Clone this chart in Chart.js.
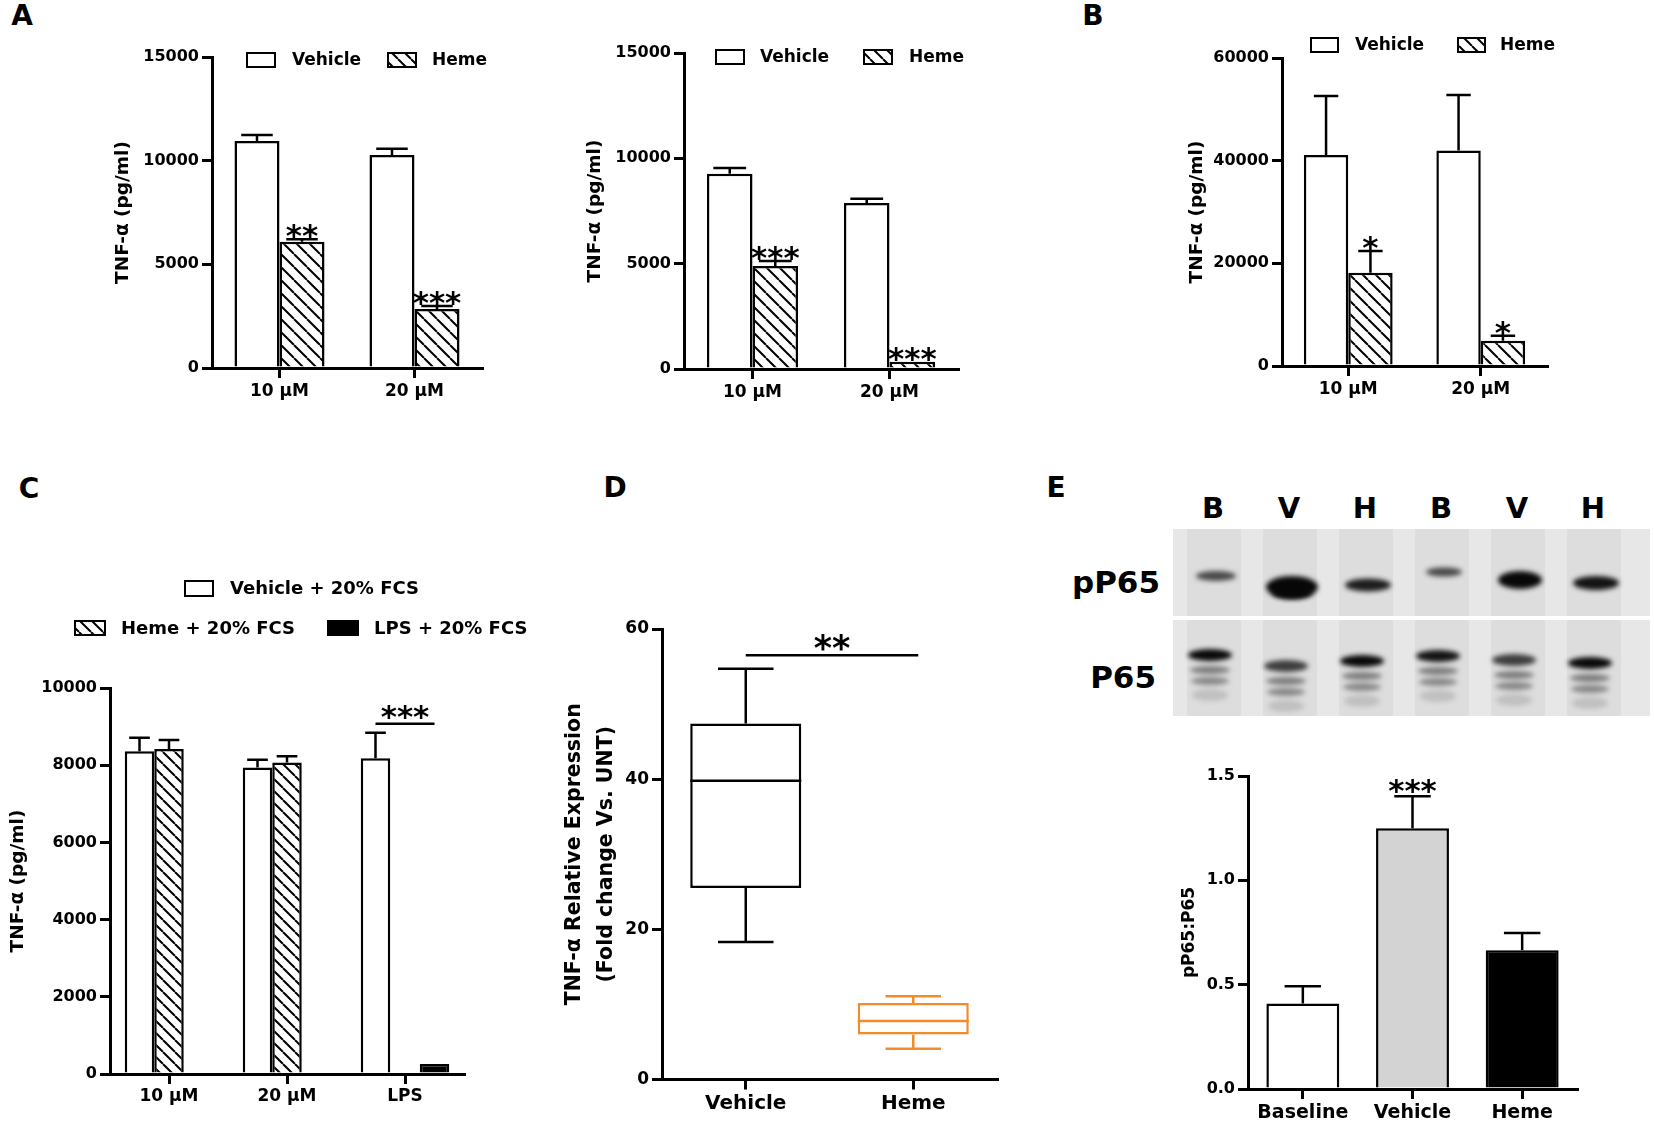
<!DOCTYPE html>
<html>
<head>
<meta charset="utf-8">
<title>TNF-alpha panels</title>
<script src="https://cdn.jsdelivr.net/npm/chart.js@4.4.0/dist/chart.umd.min.js"></script>
<style>
    body { margin: 0; background: #fff; }
    #page { position: relative; width: 1654px; height: 1127px; overflow: hidden; background: #fff;
            font-family: "DejaVu Sans", sans-serif; font-weight: bold; color: #000; }
    canvas { position: absolute; }
    .tag { position: absolute; line-height: 1; white-space: nowrap; transform: translate(-50%, -50%); }
    .panel { font-size: 28px; }
    .lane { font-size: 29px; }
    .row { font-size: 31px; transform: translate(-100%, -50%); }
</style>
</head>
<body>
<div id="page">
    <div class="tag panel" style="left:22px; top:16px">A</div>
    <div class="tag panel" style="left:1093px; top:16px">B</div>
    <div class="tag panel" style="left:29px; top:489px">C</div>
    <div class="tag panel" style="left:615px; top:488px">D</div>
    <div class="tag panel" style="left:1056px; top:488px">E</div>

    <div id="laneRow"></div>
    <div class="tag row" style="left:1160px; top:582px">pP65</div>
    <div class="tag row" style="left:1156px; top:677px">P65</div>

    <canvas id="chartA1"></canvas>
    <canvas id="chartA2"></canvas>
    <canvas id="chartB"></canvas>
    <canvas id="chartC"></canvas>
    <canvas id="chartD"></canvas>
    <canvas id="chartE"></canvas>
    <canvas id="blot"></canvas>
</div>

<script>
// ---- data ----
const doseLabels = ["10 \u03bcM", "20 \u03bcM"];

// panel A, left (pg/ml)
const a1Vehicle = [10950, 10270];
const a1VehicleErr = [290, 300];
const a1Heme = [6090, 2850];
const a1HemeErr = [115, 140];
const a1Stars = ["**", "***"];

// panel A, right
const a2Vehicle = [9270, 7880];
const a2VehicleErr = [270, 200];
const a2Heme = [4890, 350];
const a2HemeErr = [240, 0];
const a2Stars = ["***", "***"];

// panel B
const bVehicle = [41100, 42000];
const bVehicleErr = [11500, 10800];
const bHeme = [18150, 4900];
const bHemeErr = [4240, 1000];
const bStars = ["*", "*"];

// panel C
const cLabels = ["10 \u03bcM", "20 \u03bcM", "LPS"];
const cVehicle = [8360, 7940, 8180];
const cVehicleErr = [350, 200, 660];
const cHeme = [8420, 8070, null];
const cHemeErr = [230, 160, 0];
const cLps = [null, null, 260];
const cLpsErr = [0, 0, 0];
const cSigValue = 9075;

// panel D (box and whiskers)
const dLabels = ["Vehicle", "Heme"];
const dMin = [18.3, 4.1];
const dQ1 = [25.5, 6.0];
const dMedian = [39.8, 7.8];
const dQ3 = [47.4, 10.2];
const dMax = [54.7, 11.1];
const dSigValue = 56.5;

// panel E
const eLabels = ["Baseline", "Vehicle", "Heme"];
const eRatio = [0.41, 1.25, 0.665];
const eRatioErr = [0.083, 0.153, 0.083];
const eStars = ["", "***", ""];

// western blot lanes
const laneLabels = ["B", "V", "H", "B", "V", "H"];
const pP65Strength = [0.7, 1.0, 0.9, 0.7, 1.0, 0.95];
const p65Strength = [1.0, 0.75, 1.0, 0.95, 0.75, 1.0];

const FONT = "'DejaVu Sans', sans-serif";
const ORANGE = "#f28c28";

Chart.defaults.font.family = FONT;
Chart.defaults.font.weight = "bold";
Chart.defaults.color = "#000";

// diagonal hatch used for the heme bars
function hatch(step) {
    const tile = document.createElement("canvas");
    tile.width = step;
    tile.height = step;
    const t = tile.getContext("2d");
    t.fillStyle = "#fff";
    t.fillRect(0, 0, step, step);
    t.strokeStyle = "#000";
    t.lineWidth = 2;
    t.beginPath();
    for (let k = -step; k <= step; k += step) {
        t.moveTo(k, 0);
        t.lineTo(k + step, step);
    }
    t.stroke();
    return t.createPattern(tile, "repeat");
}

const hatchWide = hatch(13);
const hatchNarrow = hatch(12);

// extra drawing per canvas: legend, error bars, stars, bracket lines, whiskers
const panelExtras = {};

const extrasPlugin = {
    id: "extras",
    afterDatasetsDraw(chart) {
        const ex = panelExtras[chart.canvas.id];
        if (!ex) return;
        const ctx = chart.ctx;
        const yScale = chart.scales.y;
        const ox = ex.origin[0];
        const oy = ex.origin[1];
        ctx.save();

        // error bars and asterisks
        chart.data.datasets.forEach((ds, d) => {
            if (!ds.errors) return;
            const meta = chart.getDatasetMeta(d);
            meta.data.forEach((bar, i) => {
                const v = ds.data[i];
                if (v === null || v === undefined) return;
                const err = ds.errors[i] || 0;
                const yTop = yScale.getPixelForValue(v + err);
                if (err > 0) {
                    const half = bar.width * ex.capFrac / 2;
                    ctx.strokeStyle = "#000";
                    ctx.lineWidth = 2.5;
                    ctx.beginPath();
                    ctx.moveTo(bar.x, bar.y);
                    ctx.lineTo(bar.x, yTop);
                    ctx.moveTo(bar.x - half, yTop);
                    ctx.lineTo(bar.x + half, yTop);
                    ctx.stroke();
                }
                if (ds.stars && ds.stars[i]) {
                    ctx.fillStyle = "#000";
                    ctx.font = "bold " + ex.starSize + "px " + FONT;
                    ctx.textAlign = "center";
                    ctx.textBaseline = "alphabetic";
                    ctx.fillText(ds.stars[i], bar.x, yTop + ex.starDrop);
                }
            });
        });

        // box plot median and whiskers
        if (ex.box) {
            const meta = chart.getDatasetMeta(0);
            meta.data.forEach((bar, i) => {
                const half = bar.width / 2;
                const cap = bar.width * ex.box.capFrac / 2;
                const yMed = yScale.getPixelForValue(ex.box.median[i]);
                const yQ1 = yScale.getPixelForValue(ex.box.q1[i]);
                const yQ3 = yScale.getPixelForValue(ex.box.q3[i]);
                const yMin = yScale.getPixelForValue(ex.box.min[i]);
                const yMax = yScale.getPixelForValue(ex.box.max[i]);
                ctx.strokeStyle = ex.box.colors[i];
                ctx.lineWidth = 2.5;
                ctx.beginPath();
                ctx.moveTo(bar.x - half, yMed);
                ctx.lineTo(bar.x + half, yMed);
                ctx.moveTo(bar.x, yQ3);
                ctx.lineTo(bar.x, yMax);
                ctx.moveTo(bar.x - cap, yMax);
                ctx.lineTo(bar.x + cap, yMax);
                ctx.moveTo(bar.x, yQ1);
                ctx.lineTo(bar.x, yMin);
                ctx.moveTo(bar.x - cap, yMin);
                ctx.lineTo(bar.x + cap, yMin);
                ctx.stroke();
            });
        }

        // significance bracket (a flat line with stars above)
        if (ex.sig) {
            const s = ex.sig;
            const x1 = chart.getDatasetMeta(s.from[0]).data[s.from[1]].x + (s.pad ? s.pad[0] : 0);
            const x2 = chart.getDatasetMeta(s.to[0]).data[s.to[1]].x + (s.pad ? s.pad[1] : 0);
            const y = yScale.getPixelForValue(s.value);
            ctx.strokeStyle = "#000";
            ctx.lineWidth = 2.5;
            ctx.beginPath();
            ctx.moveTo(x1, y);
            ctx.lineTo(x2, y);
            ctx.stroke();
            ctx.fillStyle = "#000";
            ctx.font = "bold " + s.size + "px " + FONT;
            ctx.textAlign = "center";
            ctx.textBaseline = "alphabetic";
            ctx.fillText(s.text, (x1 + x2) / 2, y + s.drop);
        }

        // legend swatches and labels (page coordinates)
        if (ex.legend) {
            ex.legend.forEach((item) => {
                const x = item.box[0] - ox;
                const y = item.box[1] - oy;
                ctx.fillStyle = item.fill;
                ctx.fillRect(x, y, item.box[2], item.box[3]);
                ctx.strokeStyle = "#000";
                ctx.lineWidth = 2;
                ctx.strokeRect(x, y, item.box[2], item.box[3]);
                ctx.fillStyle = "#000";
                ctx.font = "bold " + ex.legendSize + "px " + FONT;
                ctx.textAlign = "left";
                ctx.textBaseline = "middle";
                ctx.fillText(item.label, item.textX - ox, y + item.box[3] / 2 + 1);
            });
        }
        ctx.restore();
    }
};

function placeCanvas(id, box) {
    const c = document.getElementById(id);
    c.width = box.w;
    c.height = box.h;
    c.style.left = box.x + "px";
    c.style.top = box.y + "px";
    c.style.width = box.w + "px";
    c.style.height = box.h + "px";
    return c;
}

// builds a Prism-like bar chart whose axes land on the given page pixels
function prismChart(id, box, geo, cfg) {
    const canvas = placeCanvas(id, box);
    const yWidth = geo.axisX - box.x;
    const xHeight = box.y + box.h - geo.zeroY;
    const axisLine = {display: true, color: "#000", width: 3};
    const tickGrid = {drawOnChartArea: false, drawTicks: true, tickLength: 10, color: "#000", lineWidth: 3};

    return new Chart(canvas, {
        type: "bar",
        data: cfg.data,
        plugins: [extrasPlugin],
        options: {
            responsive: false,
            animation: false,
            layout: {
                padding: {left: 0, bottom: 0, top: geo.topY - box.y, right: box.x + box.w - geo.rightX}
            },
            plugins: {legend: {display: false}, tooltip: {enabled: false}},
            datasets: {bar: {barPercentage: cfg.barPct, categoryPercentage: cfg.catPct}},
            scales: {
                x: {
                    grid: Object.assign({offset: false}, tickGrid),
                    border: axisLine,
                    ticks: {font: {size: cfg.xFont}, padding: cfg.xPad, maxRotation: 0, autoSkip: false},
                    afterFit: (s) => { s.height = xHeight; }
                },
                y: {
                    min: 0,
                    max: cfg.yMax,
                    grid: tickGrid,
                    border: axisLine,
                    ticks: {stepSize: cfg.yStep, font: {size: cfg.yFont}, padding: 3,
                        callback: cfg.yFormat || ((v) => v)},
                    title: {display: true, text: cfg.yTitle, padding: 0,
                        font: {size: cfg.titleFont, lineHeight: cfg.titleLine || 1.2}},
                    afterFit: (s) => { s.width = yWidth; }
                }
            }
        }
    });
}

function barSet(label, values, errors, fill, stars) {
    return {
        label: label,
        data: values,
        errors: errors,
        stars: stars,
        backgroundColor: fill,
        borderColor: "#000",
        borderWidth: 2.5
    };
}

// ---------- panel A, left ----------
const boxA1 = {x: 112, y: 20, w: 388, h: 400};
panelExtras.chartA1 = {
    origin: [boxA1.x, boxA1.y], capFrac: 0.7, starSize: 31, starDrop: 7, legendSize: 17,
    legend: [
        {box: [247, 53, 28, 14], fill: "#fff", label: "Vehicle", textX: 292},
        {box: [388, 53, 28, 14], fill: hatchWide, label: "Heme", textX: 432}
    ]
};
prismChart("chartA1", boxA1, {axisX: 212, topY: 57, zeroY: 368, rightX: 482}, {
    data: {labels: doseLabels, datasets: [
        barSet("Vehicle", a1Vehicle, a1VehicleErr, "#fff"),
        barSet("Heme", a1Heme, a1HemeErr, hatchWide, a1Stars)
    ]},
    barPct: 1, catPct: 0.667, yMax: 15000, yStep: 5000, yFont: 16, xFont: 17, xPad: 3,
    yTitle: "TNF-\u03b1 (pg/ml)", titleFont: 18.5
});

// ---------- panel A, right ----------
const boxA2 = {x: 584, y: 20, w: 391, h: 400};
panelExtras.chartA2 = {
    origin: [boxA2.x, boxA2.y], capFrac: 0.72, starSize: 31, starDrop: 7, legendSize: 17,
    legend: [
        {box: [716, 50, 28, 14], fill: "#fff", label: "Vehicle", textX: 760},
        {box: [864, 50, 28, 14], fill: hatchWide, label: "Heme", textX: 909}
    ]
};
prismChart("chartA2", boxA2, {axisX: 684, topY: 53, zeroY: 369, rightX: 958}, {
    data: {labels: doseLabels, datasets: [
        barSet("Vehicle", a2Vehicle, a2VehicleErr, "#fff"),
        barSet("Heme", a2Heme, a2HemeErr, hatchWide, a2Stars)
    ]},
    barPct: 1, catPct: 0.665, yMax: 15000, yStep: 5000, yFont: 16, xFont: 17, xPad: 3,
    yTitle: "TNF-\u03b1 (pg/ml)", titleFont: 18.5
});

// ---------- panel B ----------
const boxB = {x: 1186, y: 20, w: 379, h: 400};
panelExtras.chartB = {
    origin: [boxB.x, boxB.y], capFrac: 0.55, starSize: 31, starDrop: 7, legendSize: 17,
    legend: [
        {box: [1311, 38, 27, 14], fill: "#fff", label: "Vehicle", textX: 1355},
        {box: [1458, 38, 27, 14], fill: hatchWide, label: "Heme", textX: 1500}
    ]
};
prismChart("chartB", boxB, {axisX: 1282, topY: 58, zeroY: 366, rightX: 1547}, {
    data: {labels: doseLabels, datasets: [
        barSet("Vehicle", bVehicle, bVehicleErr, "#fff"),
        barSet("Heme", bHeme, bHemeErr, hatchWide, bStars)
    ]},
    barPct: 1, catPct: 0.67, yMax: 60000, yStep: 20000, yFont: 16, xFont: 17, xPad: 3,
    yTitle: "TNF-\u03b1 (pg/ml)", titleFont: 18.5
});

// ---------- panel C ----------
const boxC = {x: 7, y: 560, w: 543, h: 565};
panelExtras.chartC = {
    origin: [boxC.x, boxC.y], capFrac: 0.7, starSize: 31, starDrop: 7, legendSize: 18,
    sig: {from: [0, 2], to: [2, 2], value: cSigValue, text: "***", size: 31, drop: 3},
    legend: [
        {box: [185, 581, 28, 15], fill: "#fff", label: "Vehicle + 20% FCS", textX: 230},
        {box: [75, 621, 30, 14], fill: hatchNarrow, label: "Heme + 20% FCS", textX: 121},
        {box: [328, 621, 30, 14], fill: "#000", label: "LPS + 20% FCS", textX: 374}
    ]
};
prismChart("chartC", boxC, {axisX: 110, topY: 688, zeroY: 1074, rightX: 464}, {
    data: {labels: cLabels, datasets: [
        barSet("Vehicle + 20% FCS", cVehicle, cVehicleErr, "#fff"),
        barSet("Heme + 20% FCS", cHeme, cHemeErr, hatchNarrow),
        barSet("LPS + 20% FCS", cLps, cLpsErr, "#000")
    ]},
    barPct: 1, catPct: 0.75, yMax: 10000, yStep: 2000, yFont: 16, xFont: 17, xPad: 2,
    yTitle: "TNF-\u03b1 (pg/ml)", titleFont: 18.5
});

// ---------- panel D (floating bars make the boxes) ----------
const boxD = {x: 559, y: 580, w: 456, h: 545};
panelExtras.chartD = {
    origin: [boxD.x, boxD.y], capFrac: 0.5, starSize: 35, starDrop: 7,
    box: {min: dMin, q1: dQ1, median: dMedian, q3: dQ3, max: dMax, colors: ["#000", ORANGE], capFrac: 0.5},
    sig: {from: [0, 0], to: [0, 1], pad: [0, 5], value: dSigValue, text: "**", size: 35, drop: 5}
};
prismChart("chartD", boxD, {axisX: 662, topY: 629, zeroY: 1079.5, rightX: 997}, {
    data: {labels: dLabels, datasets: [{
        label: "TNF-\u03b1",
        data: dQ1.map((q, i) => [q, dQ3[i]]),
        backgroundColor: "#fff",
        borderColor: ["#000", ORANGE],
        borderWidth: 2.5,
        borderSkipped: false
    }]},
    barPct: 0.663, catPct: 1, yMax: 60, yStep: 20, yFont: 17, xFont: 20, xPad: 2,
    yTitle: ["TNF-\u03b1 Relative Expression", "(Fold change Vs. UNT)"], titleFont: 20.5, titleLine: 1.56
});

// ---------- panel E, bar chart ----------
const boxE = {x: 1179, y: 740, w: 421, h: 387};
panelExtras.chartE = {
    origin: [boxE.x, boxE.y], capFrac: 0.5, starSize: 31, starDrop: 5
};
prismChart("chartE", boxE, {axisX: 1248, topY: 776, zeroY: 1089, rightX: 1577}, {
    data: {labels: eLabels, datasets: [{
        label: "pP65:P65",
        data: eRatio,
        errors: eRatioErr,
        stars: eStars,
        backgroundColor: ["#fff", "#d3d3d3", "#000"],
        borderColor: "#000",
        borderWidth: 2.5
    }]},
    barPct: 0.665, catPct: 1, yMax: 1.5, yStep: 0.5, yFont: 16, xFont: 19, xPad: 3,
    yFormat: (v) => Number(v).toFixed(1),
    yTitle: "pP65:P65", titleFont: 17
});

// ---------- panel E, western blot picture ----------
function drawBlot() {
    const box = {x: 1173, y: 529, w: 477, h: 187};
    const c = placeCanvas("blot", box);
    const ctx = c.getContext("2d");
    const laneX = (i) => 1214 + 76 * i - box.x;

    // two membrane strips
    const strips = [{top: 0, h: 87}, {top: 91, h: 96}];
    strips.forEach((s) => {
        ctx.fillStyle = "#e7e7e7";
        ctx.fillRect(0, s.top, box.w, s.h);
        for (let i = 0; i < laneLabels.length; i++) {
            ctx.fillStyle = "rgba(0,0,0,0.04)";
            ctx.fillRect(laneX(i) - 27, s.top, 54, s.h);
        }
    });

    ctx.filter = "blur(2.5px)";
    // pP65 bands
    const pTop = [47, 58, 56, 43, 51, 54];
    const pWide = [20, 26, 23, 18, 22, 23];
    const pTall = [5, 11, 6.5, 4.5, 9, 7];
    pP65Strength.forEach((k, i) => {
        ctx.fillStyle = "rgba(8,8,8," + k + ")";
        ctx.beginPath();
        ctx.ellipse(laneX(i) + 2, pTop[i], pWide[i], pTall[i], 0, 0, Math.PI * 2);
        ctx.fill();
    });
    // lower lobe of the strong vehicle band
    ctx.fillStyle = "rgba(8,8,8,1)";
    ctx.beginPath();
    ctx.ellipse(laneX(1) + 2, 64, 20, 6, 0, 0, Math.PI * 2);
    ctx.fill();

    // P65 bands: one strong band and fainter ones below it
    const qTop = [126, 137, 132, 127, 131, 134];
    p65Strength.forEach((k, i) => {
        const x = laneX(i) - 4;
        ctx.fillStyle = "rgba(8,8,8," + k + ")";
        ctx.beginPath();
        ctx.ellipse(x, qTop[i], 22, 6, 0, 0, Math.PI * 2);
        ctx.fill();
        ctx.fillStyle = "rgba(30,30,30,0.5)";
        ctx.beginPath();
        ctx.ellipse(x, qTop[i] + 15, 20, 4, 0, 0, Math.PI * 2);
        ctx.fill();
        ctx.fillStyle = "rgba(30,30,30,0.45)";
        ctx.beginPath();
        ctx.ellipse(x, qTop[i] + 26, 19, 4, 0, 0, Math.PI * 2);
        ctx.fill();
        ctx.fillStyle = "rgba(30,30,30,0.15)";
        ctx.beginPath();
        ctx.ellipse(x, qTop[i] + 40, 18, 6, 0, 0, Math.PI * 2);
        ctx.fill();
    });
    ctx.filter = "none";

    // lane letters above the blot
    const row = document.getElementById("laneRow");
    laneLabels.forEach((t, i) => {
        const d = document.createElement("div");
        d.className = "tag lane";
        d.style.left = (1213 + 76 * i) + "px";
        d.style.top = "508px";
        d.textContent = t;
        row.appendChild(d);
    });
}

drawBlot();
</script>
</body>
</html>
